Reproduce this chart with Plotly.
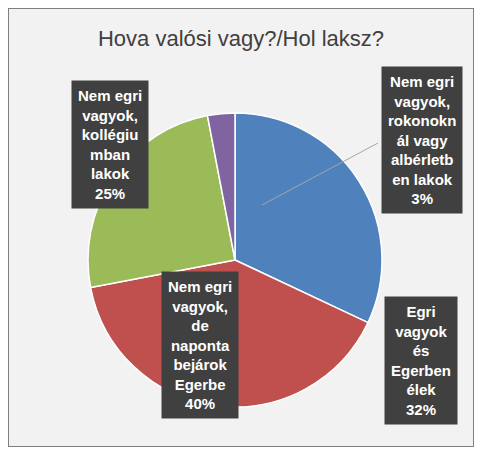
import plotly.graph_objects as go

labels = ["Egri vagyok és Egerben élek",
          "Nem egri vagyok, de naponta bejárok Egerbe",
          "Nem egri vagyok, kollégiumban lakok",
          "Nem egri vagyok, rokonoknál vagy albérletben lakok"]
values = [32, 40, 25, 3]
colors = ["#4f81bd", "#c0504d", "#9bbb59", "#8064a2"]

box_texts = [
    "Egri<br>vagyok<br>és<br>Egerben<br>élek<br>32%",
    "Nem egri<br>vagyok,<br>de<br>naponta<br>bejárok<br>Egerbe<br>40%",
    "Nem egri<br>vagyok,<br>kollégiu<br>mban<br>lakok<br>25%",
    "Nem egri<br>vagyok,<br>rokonokn<br>ál vagy<br>albérletb<br>en lakok<br>3%",
]
# centre x, top y in window pixels
box_pos = [(421, 296), (200, 271), (110, 80), (422, 66)]

W, H = 466, 439  # page body has an 8px margin
OFF = 8


def px(x):
    return (x - OFF) / W


def py(y):
    return 1 - (y - OFF) / H


fig = go.Figure(go.Pie(
    labels=labels, values=values, sort=False, direction="clockwise",
    rotation=0, marker=dict(colors=colors, line=dict(color="white", width=1.5)),
    textinfo="none", hoverinfo="label+percent", showlegend=False,
    domain=dict(x=[px(88), px(382)], y=[py(407), py(113)]),
))

shapes = [
    dict(type="line", xref="paper", yref="paper",
         x0=px(378), y0=py(143), x1=px(262), y1=py(205),
         line=dict(color="#a6a6a6", width=1)),
    dict(type="rect", xref="paper", yref="paper",
         x0=0, y0=0, x1=1, y1=1, line=dict(color="#7f7f7f", width=2)),
]

for t, (x, y) in zip(box_texts, box_pos):
    fig.add_annotation(x=px(x), y=py(y), xref="paper", yref="paper",
                       xanchor="center", yanchor="top",
                       text="<b>" + t + "</b>", showarrow=False, align="center",
                       font=dict(family="Liberation Sans, Arial", size=15, color="white"),
                       bgcolor="#404040", borderpad=6)

fig.update_layout(
    width=W, height=H, margin=dict(l=0, r=0, t=0, b=0),
    paper_bgcolor="#f2f2f2",
    title=dict(text="Hova valósi vagy?/Hol laksz?", x=0.5, xanchor="center",
               y=py(38), yanchor="middle",
               font=dict(family="Liberation Sans, Arial", size=22, color="#404040")),
    shapes=shapes,
)

fig.write_html("out.html")
